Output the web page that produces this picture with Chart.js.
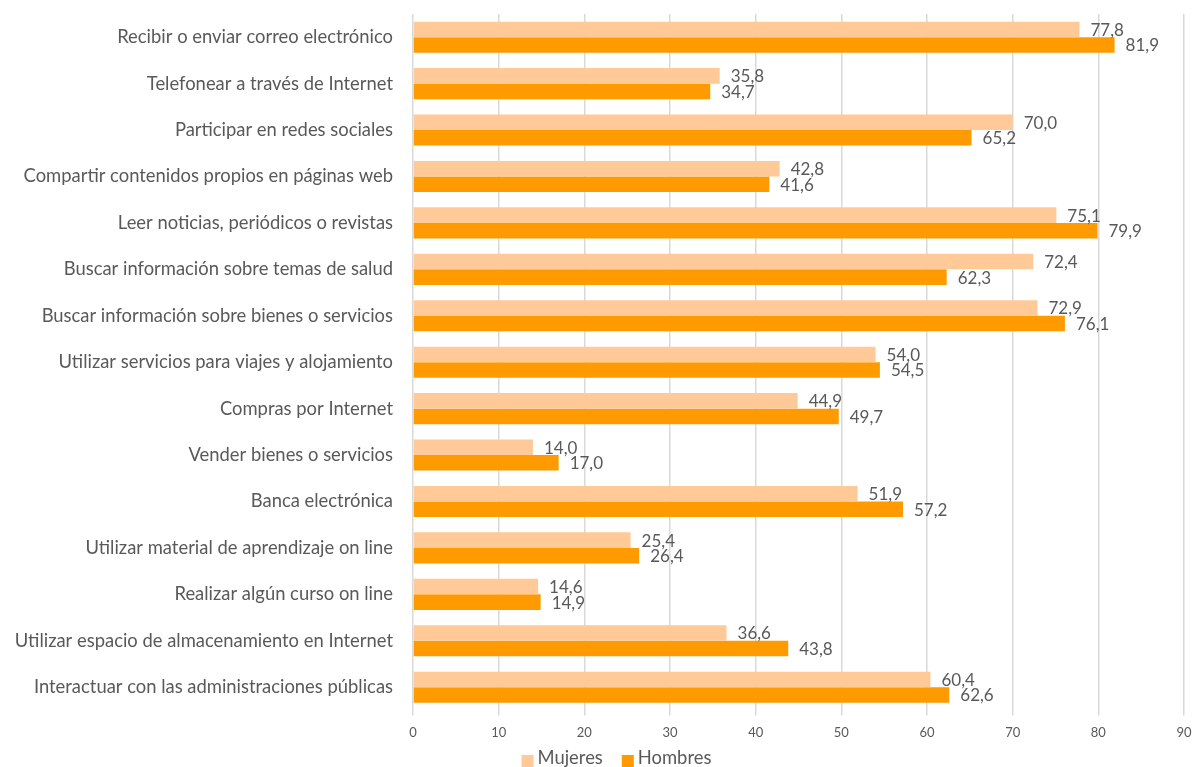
<!DOCTYPE html>
<html>
<head>
<meta charset="utf-8">
<script src="https://cdn.jsdelivr.net/npm/chart.js@4.4.1/dist/chart.umd.min.js"></script>
<style>
html,body{margin:0;padding:0;background:#fff;overflow:hidden;}
#wrap{position:relative;width:1194px;height:767px;}
</style>
</head>
<body>
<div id="wrap"><canvas id="c"></canvas></div>
<script>
const categories = [
  "Recibir o enviar correo electrónico",
  "Telefonear a través de Internet",
  "Participar en redes sociales",
  "Compartir contenidos propios en páginas web",
  "Leer noticias, periódicos o revistas",
  "Buscar información sobre temas de salud",
  "Buscar información sobre bienes o servicios",
  "Utilizar servicios para viajes y alojamiento",
  "Compras por Internet",
  "Vender bienes o servicios",
  "Banca electrónica",
  "Utilizar material de aprendizaje on line",
  "Realizar algún curso on line",
  "Utilizar espacio de almacenamiento en Internet",
  "Interactuar con las administraciones públicas"
];
const mujeres = [77.8, 35.8, 70.0, 42.8, 75.1, 72.4, 72.9, 54.0, 44.9, 14.0, 51.9, 25.4, 14.6, 36.6, 60.4];
const hombres = [81.9, 34.7, 65.2, 41.6, 79.9, 62.3, 76.1, 54.5, 49.7, 17.0, 57.2, 26.4, 14.9, 43.8, 62.6];
const seriesNames = ["Mujeres", "Hombres"];
const seriesColors = ["#FFCA98", "#FF9A00"];
const xTicks = [0, 10, 20, 30, 40, 50, 60, 70, 80, 90];

const FONT = "Lato";
const TEXT = "#595959";

const labelPlugin = {
  id: 'valueLabels',
  afterDatasetsDraw(chart) {
    const ctx = chart.ctx;
    ctx.save();
    ctx.font = "17px " + FONT;
    ctx.fillStyle = TEXT;
    ctx.textAlign = 'left';
    ctx.textBaseline = 'middle';
    chart.data.datasets.forEach((ds, i) => {
      const meta = chart.getDatasetMeta(i);
      meta.data.forEach((bar, j) => {
        const v = ds.data[j];
        const txt = v.toFixed(1).replace('.', ',');
        ctx.fillText(txt, bar.x + 11, bar.y + 1);
      });
    });
    ctx.restore();
  }
};

const legendPlugin = {
  id: 'customLegend',
  afterDraw(chart) {
    const ctx = chart.ctx;
    ctx.save();
    ctx.font = "18.4px " + FONT;
    ctx.textBaseline = 'middle';
    ctx.textAlign = 'left';
    const box = 12, gapBoxText = 4, gapItems = 19;
    const items = chart.data.datasets.map(ds => ({ text: ds.label, color: ds.backgroundColor, w: ctx.measureText(ds.label).width }));
    let total = 0;
    items.forEach((it, k) => { total += box + gapBoxText + it.w + (k < items.length - 1 ? gapItems : 0); });
    let x = chart.width * 0.5163 - total / 2;
    const y = chart.height - 9;
    items.forEach(it => {
      ctx.fillStyle = it.color;
      ctx.fillRect(x, y - 3, box, box);
      x += box + gapBoxText;
      ctx.fillStyle = TEXT;
      ctx.fillText(it.text, x, y);
      x += it.w + gapItems;
    });
    ctx.restore();
  }
};

new Chart(document.getElementById('c'), {
  type: 'bar',
  data: {
    labels: categories,
    datasets: [
      { label: seriesNames[0], data: mujeres, backgroundColor: seriesColors[0], categoryPercentage: 0.67, barPercentage: 1.0 },
      { label: seriesNames[1], data: hombres, backgroundColor: seriesColors[1], categoryPercentage: 0.67, barPercentage: 1.0 }
    ]
  },
  options: {
    indexAxis: 'y',
    responsive: true,
    maintainAspectRatio: false,
    animation: false,
    layout: { padding: { top: 14, right: 10, left: 0, bottom: 16 } },
    plugins: {
      legend: { display: false },
      tooltip: { enabled: false }
    },
    scales: {
      x: {
        min: 0, max: 90,
        afterBuildTicks: (s) => { s.ticks = xTicks.map(v => ({ value: v })); },
        afterFit: (s) => { s.paddingRight = 0; s.paddingLeft = 0; },
        grid: { color: '#D9D9D9', lineWidth: 1.5, tickLength: 5, drawTicks: true },
        border: { display: false },
        ticks: { font: { family: FONT, size: 13 }, color: TEXT, padding: 10 }
      },
      y: {
        grid: { display: false, drawTicks: false },
        border: { display: false },
        afterFit: (s) => { s.width = 413; s.paddingTop = 0; s.paddingBottom = 0; },
        ticks: { font: { family: FONT, size: 18.4 }, color: TEXT, padding: 20, autoSkip: false }
      }
    }
  },
  plugins: [labelPlugin, legendPlugin]
});
</script>
</body>
</html>
